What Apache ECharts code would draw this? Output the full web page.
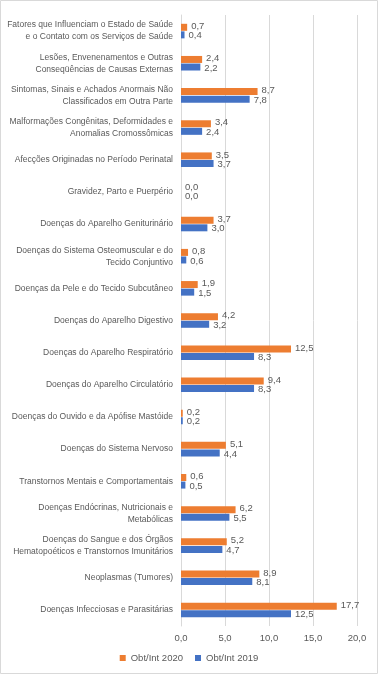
<!DOCTYPE html>
<html><head><meta charset="utf-8">
<script src="https://cdn.jsdelivr.net/npm/echarts@6/dist/echarts.min.js"></script>
<style>html,body{margin:0;padding:0;background:#fff;}#c{width:378px;height:674px;}</style>
</head><body><div id="c"></div>
<script>
const categories = [
 "Fatores que Influenciam o Estado de Saúde\ne o Contato com os Serviços de Saúde",
 "Lesões, Envenenamentos e Outras\nConseqüências de Causas Externas",
 "Sintomas, Sinais e Achados Anormais Não\nClassificados em Outra Parte",
 "Malformações Congênitas, Deformidades e\nAnomalias Cromossômicas",
 "Afecções Originadas no Período Perinatal",
 "Gravidez, Parto e Puerpério",
 "Doenças do Aparelho Geniturinário",
 "Doenças do Sistema Osteomuscular e do\nTecido Conjuntivo",
 "Doenças da Pele e do Tecido Subcutâneo",
 "Doenças do Aparelho Digestivo",
 "Doenças do Aparelho Respiratório",
 "Doenças do Aparelho Circulatório",
 "Doenças do Ouvido e da Apófise Mastóide",
 "Doenças do Sistema Nervoso",
 "Transtornos Mentais e Comportamentais",
 "Doenças Endócrinas, Nutricionais e\nMetabólicas",
 "Doenças do Sangue e dos Órgãos\nHematopoéticos e Transtornos Imunitários",
 "Neoplasmas (Tumores)",
 "Doenças Infecciosas e Parasitárias"
];
const values2020 = [0.7,2.4,8.7,3.4,3.5,0.0,3.7,0.8,1.9,4.2,12.5,9.4,0.2,5.1,0.6,6.2,5.2,8.9,17.7];
const values2019 = [0.4,2.2,7.8,2.4,3.7,0.0,3.0,0.6,1.5,3.2,8.3,8.3,0.2,4.4,0.5,5.5,4.7,8.1,12.5];
const xTicks = [0,5,10,15,20];

const fmt = v => (typeof v === 'object' ? v.value : v).toFixed(1).replace('.', ',');
const font = "'Liberation Sans', sans-serif";
const chart = echarts.init(document.getElementById('c'));
chart.setOption({
  animation:false,
  textStyle:{fontFamily:font},
  graphic:[{type:'rect',shape:{x:0.5,y:0.5,width:377,height:673},style:{fill:null,stroke:'#d9d9d9',lineWidth:1},silent:true}],
  legend:{
    data:['Obt/Int 2020','Obt/Int 2019'],
    bottom:6, left:'center',
    itemWidth:6,itemHeight:6,itemGap:12,icon:'rect',
    textStyle:{color:'#595959',fontSize:9.5,fontFamily:font}
  },
  grid:{left:181,right:21,top:15,bottom:48,containLabel:false,outerBoundsMode:'none'},
  xAxis:{
    type:'value',min:xTicks[0],max:xTicks[xTicks.length-1],interval:5,
    axisLabel:{formatter:v=>v.toFixed(1).replace('.',','),color:'#595959',fontSize:9.5,margin:7},
    splitLine:{lineStyle:{color:'#d9d9d9'}},
    axisLine:{show:false},axisTick:{show:false}
  },
  yAxis:{
    type:'category',data:categories,inverse:true,
    axisLabel:{color:'#595959',fontSize:8.5,lineHeight:12,margin:8,align:'right'},
    axisLine:{show:true,lineStyle:{color:'#d9d9d9'}},
    axisTick:{show:false}
  },
  series:[
    {name:'Obt/Int 2020',type:'bar',data:values2020,barWidth:7,barGap:'8%',
     itemStyle:{color:'#ED7D31'},
     label:{show:true,position:'right',distance:4,offset:[0,-1],formatter:p=>fmt(p.value),color:'#595959',fontSize:9.5}},
    {name:'Obt/Int 2019',type:'bar',data:values2019,barWidth:7,
     itemStyle:{color:'#4472C4'},
     label:{show:true,position:'right',distance:4,offset:[0,1],formatter:p=>fmt(p.value),color:'#595959',fontSize:9.5}}
  ]
});
</script></body></html>
